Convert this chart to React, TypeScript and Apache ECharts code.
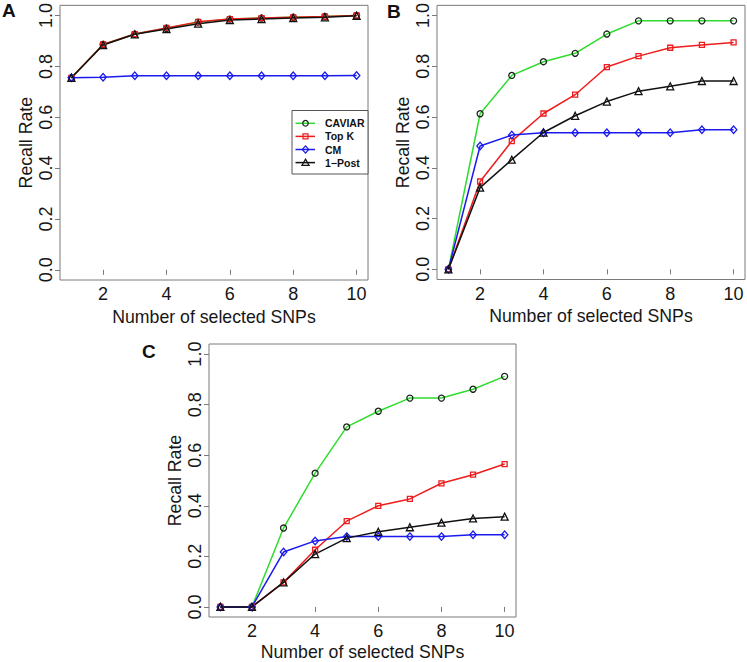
import React, { useEffect, useRef } from "react";
import * as echarts from "echarts";

// ---------- data ----------
const X = [1, 2, 3, 4, 5, 6, 7, 8, 9, 10];
const xTicks = [2, 4, 6, 8, 10];
const yTicks = [0, 0.2, 0.4, 0.6, 0.8, 1.0];
const seriesNames = ["CAVIAR", "Top K", "CM", "1\u2212Post"];
const panelLabels = ["A", "B", "C"];
const xTitle = "Number of selected SNPs";
const yTitle = "Recall Rate";

// Panel A
const aCaviar = [0.755, 0.886, 0.927, 0.95, 0.974, 0.986, 0.99, 0.993, 0.996, 1.0];
const aTopK = [0.755, 0.886, 0.927, 0.951, 0.975, 0.986, 0.99, 0.993, 0.996, 1.0];
const aCM = [0.755, 0.757, 0.763, 0.763, 0.763, 0.763, 0.763, 0.763, 0.763, 0.764];
const aPost = [0.755, 0.884, 0.926, 0.947, 0.968, 0.982, 0.986, 0.99, 0.993, 0.999];

// Panel B
const bCaviar = [0.0, 0.613, 0.764, 0.818, 0.851, 0.927, 0.979, 0.979, 0.979, 0.979];
const bTopK = [0.0, 0.346, 0.505, 0.614, 0.688, 0.797, 0.84, 0.873, 0.884, 0.894];
const bCM = [0.0, 0.486, 0.529, 0.538, 0.538, 0.538, 0.538, 0.538, 0.55, 0.55];
const bPost = [0.0, 0.322, 0.432, 0.539, 0.605, 0.661, 0.702, 0.721, 0.742, 0.742];

// Panel C
const cCaviar = [0.0, 0.0, 0.312, 0.529, 0.712, 0.774, 0.826, 0.826, 0.861, 0.912];
const cTopK = [0.0, 0.0, 0.097, 0.226, 0.339, 0.4, 0.427, 0.489, 0.523, 0.565];
const cCM = [0.0, 0.0, 0.217, 0.261, 0.278, 0.278, 0.278, 0.278, 0.285, 0.285];
const cPost = [0.0, 0.0, 0.097, 0.209, 0.272, 0.297, 0.315, 0.333, 0.35, 0.357];

const panels = [
  [aCaviar, aTopK, aCM, aPost],
  [bCaviar, bTopK, bCM, bPost],
  [cCaviar, cTopK, cCM, cPost],
];

// ---------- styles ----------
const FONT = "'Liberation Sans', Arial, Helvetica, sans-serif";
const lineColors = ["#2edc2e", "#ee1c1c", "#1a1aee", "#111111"];
const markerColors = ["#152515", "#ee1c1c", "#1a1aee", "#111111"];
const symbols = ["circle", "rect", "diamond", "triangle"];
const symbolSizes: any[] = [6, 5, [6.5, 7.5], 7];
const frameColor = "#7a7a7a";
const textColor = "#161616";

const grids = [
  { left: 60, top: 5, width: 308, height: 275 },
  { left: 437, top: 4.5, width: 308, height: 275 },
  { left: 209, top: 344, width: 307, height: 275.5 },
];
const labelPos = [
  { x: 2, y: 10 },
  { x: 387, y: 11 },
  { x: 142, y: 351 },
];

export default function App() {
  const ref = useRef<HTMLDivElement>(null);

  useEffect(() => {
    if (!ref.current) return;
    const chart = echarts.init(ref.current, undefined, { renderer: "svg" });

    const xAxes = grids.map((_, i) => ({
      type: "value",
      gridIndex: i,
      min: 0.64,
      max: 10.36,
      axisLine: { show: false },
      axisTick: {
        show: true,
        inside: false,
        length: 5,
        customValues: xTicks,
        lineStyle: { color: frameColor, width: 1 },
      },
      axisLabel: {
        customValues: xTicks,
        fontSize: 18,
        color: textColor,
        fontFamily: FONT,
        margin: 5,
      },
      splitLine: { show: false },
      name: xTitle,
      nameLocation: "middle",
      nameGap: i === 2 ? 26 : 27.5,
      nameTextStyle: { fontSize: 17.7, color: textColor, fontFamily: FONT },
    }));

    const yAxes = grids.map((_, i) => ({
      type: "value",
      gridIndex: i,
      min: -0.04,
      max: 1.04,
      axisLine: { show: false },
      axisTick: {
        show: true,
        inside: false,
        length: 5,
        customValues: yTicks,
        lineStyle: { color: frameColor, width: 1 },
      },
      axisLabel: {
        customValues: yTicks,
        rotate: 90,
        fontSize: 18,
        color: textColor,
        fontFamily: FONT,
        margin: 5,
        formatter: (v: number) => v.toFixed(1),
      },
      splitLine: { show: false },
      name: yTitle,
      nameLocation: "middle",
      nameGap: 25,
      nameTextStyle: { fontSize: 17.7, color: textColor, fontFamily: FONT },
    }));

    const series: any[] = [];
    panels.forEach((panel, p) => {
      panel.forEach((vals, s) => {
        series.push({
          type: "line",
          name: seriesNames[s],
          xAxisIndex: p,
          yAxisIndex: p,
          data: X.map((x, k) => [x, vals[k]]),
          symbol: symbols[s],
          symbolSize: symbolSizes[s],
          showAllSymbol: true,
          lineStyle: { color: lineColors[s], width: 1.5 },
          itemStyle: {
            color: "rgba(0,0,0,0)",
            borderColor: markerColors[s],
            borderWidth: 1.3,
          },
          emphasis: { disabled: true },
          silent: true,
          clip: false,
        });
      });
    });

    // legend drawn in panel A
    const lg = { x: 292, y: 110.5, w: 76, h: 63.5 };
    const rowY = [123.3, 136.4, 149.5, 162.6];
    const legendEls: any[] = [
      {
        type: "rect",
        shape: { x: lg.x, y: lg.y, width: lg.w, height: lg.h },
        style: { fill: "#ffffff", stroke: "#555555", lineWidth: 1 },
        z: 100,
      },
    ];
    seriesNames.forEach((name, i) => {
      const y = rowY[i];
      const mx = 305.5;
      legendEls.push({
        type: "line",
        shape: { x1: 295.5, y1: y, x2: 315, y2: y },
        style: { stroke: lineColors[i], lineWidth: 1.5 },
        z: 101,
      });
      let marker: any;
      const ms = { fill: "none", stroke: markerColors[i], lineWidth: 1.2 };
      if (i === 0) marker = { type: "circle", shape: { cx: mx, cy: y, r: 2.8 }, style: ms };
      else if (i === 1)
        marker = { type: "rect", shape: { x: mx - 2.5, y: y - 2.5, width: 5, height: 5 }, style: ms };
      else if (i === 2)
        marker = {
          type: "polygon",
          shape: { points: [[mx, y - 3.7], [mx + 3.2, y], [mx, y + 3.7], [mx - 3.2, y]] },
          style: ms,
        };
      else
        marker = {
          type: "polygon",
          shape: { points: [[mx, y - 3.5], [mx + 3.6, y + 2.8], [mx - 3.6, y + 2.8]] },
          style: ms,
        };
      marker.z = 102;
      legendEls.push(marker);
      legendEls.push({
        type: "text",
        x: 325,
        y: y,
        style: {
          text: name,
          fill: "#111111",
          font: `bold 10.5px ${FONT}`,
          verticalAlign: "middle",
          align: "left",
        },
        z: 102,
      });
    });

    const panelEls = panelLabels.map((t, i) => ({
      type: "text",
      x: labelPos[i].x,
      y: labelPos[i].y,
      style: {
        text: t,
        fill: "#111111",
        font: `bold 19px ${FONT}`,
        verticalAlign: "middle",
        align: "left",
      },
      z: 100,
    }));

    chart.setOption({
      animation: false,
      backgroundColor: "#ffffff",
      textStyle: { fontFamily: FONT },
      grid: grids.map((g) => ({
        ...g,
        show: true,
        borderColor: frameColor,
        borderWidth: 1,
        backgroundColor: "rgba(0,0,0,0)",
        containLabel: false,
      })),
      xAxis: xAxes,
      yAxis: yAxes,
      series,
      graphic: [...legendEls, ...panelEls],
    });

    return () => chart.dispose();
  }, []);

  return (
    <div
      ref={ref}
      style={{ position: "absolute", left: 0, top: 0, width: 747, height: 662 }}
    />
  );
}
